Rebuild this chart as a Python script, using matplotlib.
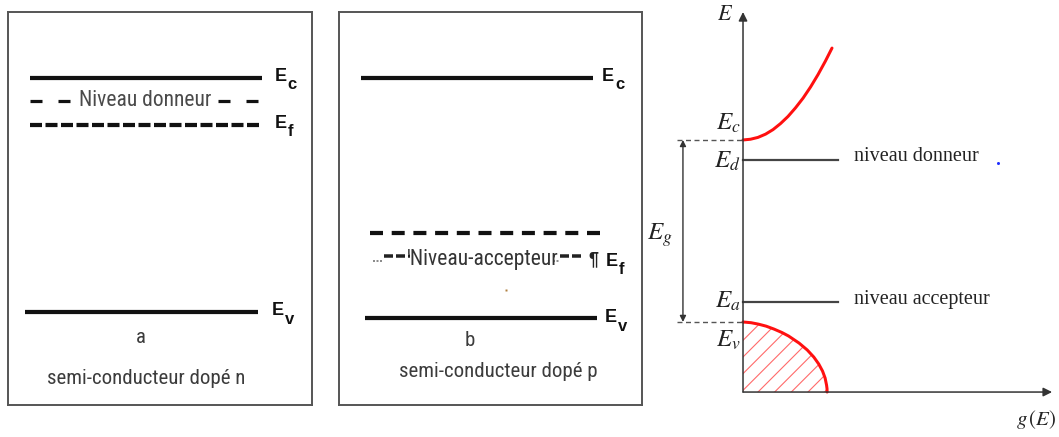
import matplotlib
matplotlib.use("Agg")
import matplotlib.pyplot as plt

plt.rcParams["lines.scale_dashes"] = False
plt.rcParams["hatch.linewidth"] = 0.8

# ---------------- data ----------------
# Panel a : semi-conducteur dopé n (énergie, Ev = 0, Ec = 1)
a_Ec = 1.0
a_Ed = 0.902
a_Ef = 0.799
a_Ev = 0.0
a_letter = "a"
a_caption = "semi-conducteur dopé n"
a_level_text = "Niveau donneur"

# Panel b : semi-conducteur dopé p
b_Ec = 1.0
b_Ef = 0.338
b_Ea = 0.231
b_Ev = -0.026
b_letter = "b"
b_caption = "semi-conducteur dopé p"
b_level_text = "Niveau-accepteur"

# Panel c : densité d'états g(E)
c_Ec = 1.0
c_Ed = 0.890
c_Ea = 0.110
c_Ev = 0.0
c_label_d = "niveau donneur"
c_label_a = "niveau accepteur"
# bande de conduction
cb_g = [0.0, 0.041, 0.082, 0.124, 0.165, 0.206, 0.247, 0.288, 0.330, 0.371, 0.412, 0.453, 0.489]
cb_E = [1.0, 1.004, 1.014, 1.032, 1.057, 1.090, 1.129, 1.176, 1.230, 1.291, 1.359, 1.434, 1.505]
# bande de valence
vb_g = [0.0, 0.044, 0.085, 0.127, 0.170, 0.214, 0.250, 0.308, 0.353, 0.389, 0.416, 0.437, 0.451, 0.459, 0.4615, 0.462]
vb_E = [0.0, -0.004, -0.012, -0.023, -0.039, -0.058, -0.077, -0.116, -0.154, -0.193, -0.231, -0.270, -0.308, -0.347, -0.366, -0.385]

# ---------------- fonts ----------------
NARROW = ["Roboto Condensed", "DejaVu Sans"]
SANS = "Liberation Sans"
SERIF = "Liberation Serif"

W, H = 1059, 437
fig = plt.figure(figsize=(W / 100, H / 100), dpi=100)


def px_axes(x0, y0, x1, y1):
    return fig.add_axes([x0 / W, 1 - y1 / H, (x1 - x0) / W, (y1 - y0) / H])


def pt(px):
    return px * 0.72


def box_panel(ax):
    ax.set_xlim(0, 1)
    ax.set_ylim(-0.397, 1.282)
    ax.set_xticks([])
    ax.set_yticks([])
    for s in ax.spines.values():
        s.set_color("#555555")
        s.set_linewidth(1.4)


def band_label(ax, x, y, sub):
    ax.annotate("E", (x, y), xytext=(0, 1), textcoords="offset points",
                fontsize=13, fontweight="bold", family=SANS, color="#111111",
                ha="left", va="center")
    ax.annotate(sub, (x, y), xytext=(9.5, -5), textcoords="offset points",
                fontsize=12, fontweight="bold", family=SANS, color="#111111",
                ha="left", va="center")


# ---------------- panel a ----------------
ax_a = px_axes(8, 12, 312, 405)
box_panel(ax_a)
ax_a.plot([0.072, 0.836], [a_Ec, a_Ec], color="#111111", lw=pt(4.2), solid_capstyle="butt")
ax_a.plot([0.072, 0.204], [a_Ed, a_Ed], color="#111111", lw=pt(3.2), dashes=(pt(12), pt(16)))
ax_a.plot([0.691, 0.822], [a_Ed, a_Ed], color="#111111", lw=pt(3.2), dashes=(pt(12), pt(16)))
ax_a.text(0.451, a_Ed, a_level_text, family=NARROW, fontsize=15.5, color="#4a4a4a",
          ha="center", va="center")
ax_a.plot([0.072, 0.836], [a_Ef, a_Ef], color="#111111", lw=pt(4.2), dashes=(pt(12), pt(3.5)))
ax_a.plot([0.056, 0.822], [a_Ev, a_Ev], color="#111111", lw=pt(4.2), solid_capstyle="butt")
band_label(ax_a, 0.877, a_Ec, "c")
band_label(ax_a, 0.877, a_Ef, "f")
band_label(ax_a, 0.866, a_Ev, "v")
ax_a.text(0.4375, -0.107, a_letter, family=NARROW, fontsize=15, color="#3c3c3c", ha="center", va="center")
ax_a.text(0.454, -0.282, a_caption, family=NARROW, fontsize=15, color="#3c3c3c", ha="center", va="center")

# ---------------- panel b ----------------
ax_b = px_axes(339, 12, 642, 405)
box_panel(ax_b)
ax_b.plot([0.073, 0.838], [b_Ec, b_Ec], color="#111111", lw=pt(4.2), solid_capstyle="butt")
ax_b.plot([0.102, 0.861], [b_Ef, b_Ef], color="#111111", lw=pt(4.2), dashes=(pt(13), pt(8.7)))
# rangée "Niveau-accepteur" (artefacts de mise en forme)
ax_b.plot([0.112, 0.145], [b_Ea - 0.012, b_Ea - 0.012], color="#666666", lw=pt(1.5), dashes=(pt(2), pt(1.5)))
ax_b.plot([0.148, 0.234], [b_Ea + 0.008, b_Ea + 0.008], color="#222222", lw=pt(3.5), dashes=(pt(9), pt(3)))
ax_b.plot([0.706, 0.728], [b_Ea - 0.012, b_Ea - 0.012], color="#666666", lw=pt(1.5), dashes=(pt(2), pt(1.5)))
ax_b.plot([0.731, 0.809], [b_Ea + 0.008, b_Ea + 0.008], color="#222222", lw=pt(3.5), dashes=(pt(9), pt(3)))
ax_b.text(0.474, b_Ea - 0.008, "'" + b_level_text, family=NARROW, fontsize=15.5, color="#343434",
          ha="center", va="center")
ax_b.text(0.822, b_Ea - 0.008, "¶", family=SANS, fontsize=13, fontweight="bold", color="#222222",
          ha="left", va="center")
ax_b.plot([0.551], [0.094], marker="s", ms=1.5, color="#b08040", mec="none")
ax_b.plot([0.086, 0.851], [b_Ev, b_Ev], color="#111111", lw=pt(4.2), solid_capstyle="butt")
band_label(ax_b, 0.868, b_Ec, "c")
band_label(ax_b, 0.881, b_Ea - 0.02, "f")
band_label(ax_b, 0.878, b_Ev - 0.005, "v")
ax_b.text(0.432, -0.120, b_letter, family=NARROW, fontsize=15, color="#3c3c3c", ha="center", va="center")
ax_b.text(0.525, -0.256, b_caption, family=NARROW, fontsize=15, color="#3c3c3c", ha="center", va="center")

# ---------------- panel c ----------------
ax_c = px_axes(650, 0, 1059, 437)
ax_c.set_xlim(-0.511, 1.736)
ax_c.set_ylim(-0.632, 1.769)
ax_c.axis("off")
E_bot = vb_E[-1]
axis_col = "#333333"
ax_c.annotate("", xy=(0, 1.703), xytext=(0, E_bot),
              arrowprops=dict(arrowstyle="-|>", color=axis_col, lw=1.1, mutation_scale=13,
                              shrinkA=0, shrinkB=0))
ax_c.annotate("", xy=(1.698, E_bot), xytext=(0, E_bot),
              arrowprops=dict(arrowstyle="-|>", color=axis_col, lw=1.1, mutation_scale=13,
                              shrinkA=0, shrinkB=0))
# DOS curves
ax_c.plot(cb_g, cb_E, color="#ff1010", lw=pt(3), solid_capstyle="round")
ax_c.fill_betweenx(vb_E, 0, vb_g, facecolor="none", edgecolor="#ff6a6a", hatch="//", linewidth=0)
ax_c.plot(vb_g, vb_E, color="#ff1010", lw=pt(3), solid_capstyle="round")
# levels
ax_c.plot([0, 0.522], [c_Ed, c_Ed], color="#444444", lw=pt(2.2))
ax_c.plot([0, 0.522], [c_Ea, c_Ea], color="#444444", lw=pt(2.2))
ax_c.plot([-0.363, 0], [c_Ec, c_Ec], color="#555555", lw=1.0, dashes=(pt(5), pt(3.5)))
ax_c.plot([-0.363, 0], [c_Ev, c_Ev], color="#555555", lw=1.0, dashes=(pt(5), pt(3.5)))
ax_c.annotate("", xy=(-0.330, c_Ev), xytext=(-0.330, c_Ec),
              arrowprops=dict(arrowstyle="<|-|>", color="#333333", lw=1.0, mutation_scale=9,
                              shrinkA=0, shrinkB=0))
mf = dict(math_fontfamily="stix", color="#222222")
ax_c.text(-0.012, 1.095, r"$E_c$", fontsize=18, ha="right", va="center", **mf)
ax_c.text(-0.012, 0.885, r"$E_d$", fontsize=18, ha="right", va="center", **mf)
ax_c.text(-0.012, 0.115, r"$E_a$", fontsize=18, ha="right", va="center", **mf)
ax_c.text(-0.012, -0.099, r"$E_v$", fontsize=18, ha="right", va="center", **mf)
ax_c.text(-0.455, 0.478, r"$E_g$", fontsize=18, ha="center", va="center", **mf)
ax_c.text(-0.099, 1.692, r"$E$", fontsize=16, ha="center", va="center", **mf)
ax_c.text(1.61, -0.538, r"$g\,(E)$", fontsize=15, ha="center", va="center", **mf)
ax_c.text(0.610, 0.907, c_label_d, family=SERIF, fontsize=14.5, color="#222222", ha="left", va="center")
ax_c.text(0.610, 0.121, c_label_a, family=SERIF, fontsize=14.5, color="#222222", ha="left", va="center")
ax_c.plot([1.401], [0.874], marker="o", ms=2.2, color="#2030ff", mec="none")

fig.savefig("out.png", dpi=100)
